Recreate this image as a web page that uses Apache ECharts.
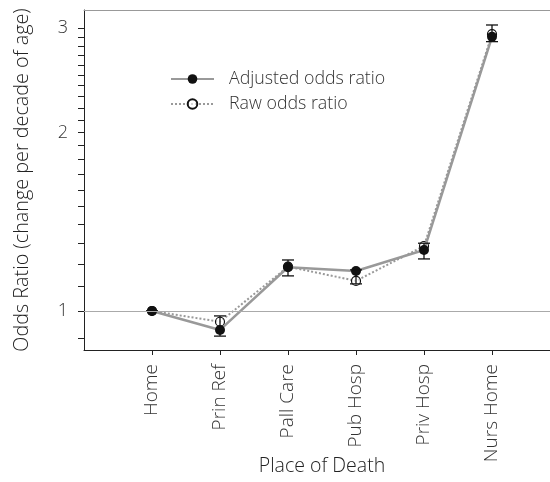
<!DOCTYPE html>
<html><head><meta charset="utf-8">
<script src="https://cdn.jsdelivr.net/npm/echarts@6/dist/echarts.min.js"></script>
<style>html,body{margin:0;padding:0;background:#fff}#c{width:550px;height:482px}</style>
</head><body><div id="c"></div>
<script>
var categories = ['Home','Prin Ref','Pall Care','Pub Hosp','Priv Hosp','Nurs Home'];
var adjusted = [1.0, 0.929, 1.185, 1.168, 1.267, 2.90];
var raw = [1.0, 0.959, 1.188, 1.124, 1.287, 2.93];
var errLow = [1.0, 0.907, 1.146, 1.111, 1.224, 2.846];
var errHigh = [1.0, 0.981, 1.219, 1.173, 1.301, 3.036];
var xTicks = [1, 2, 3, 4, 5, 6];
var yLabels = [1, 2, 3];
var yTicks = [0.9,1,1.1,1.2,1.3,1.4,1.5,1.6,1.7,1.8,1.9,2,2.1,2.2,2.3,2.4,2.5,2.6,2.7,2.8,2.9,3];

var font = 'Open Sans';
var chart = echarts.init(document.getElementById('c'));
function pts(arr){ return arr.map(function(v,i){ return [i+1, v]; }); }
var errData = categories.map(function(c,i){ return [i+1, errLow[i], errHigh[i]]; });

chart.setOption({
  animation: false,
  grid: {left: 84, top: 10, width: 476, height: 340, show: false,
         containLabel: false, outerBoundsMode: 'none'},
  legend: {
    left: 165, top: 65, orient: 'vertical', itemWidth: 43, itemHeight: 12, itemGap: 7,
    textStyle: {fontFamily: font, fontSize: 17.8, fontWeight: 300, color: '#333', padding: [0,0,0,10]},
    data: ['Adjusted odds ratio', 'Raw odds ratio']
  },
  xAxis: [{
    type: 'value', min: 0, max: 7, interval: 1,
    name: 'Place of Death', nameLocation: 'middle', nameGap: 106, nameMoveOverlap: false,
    nameTextStyle: {fontFamily: font, fontSize: 19.5, fontWeight: 300, color: '#222'},
    axisLine: {show: true, lineStyle: {color: '#222', width: 1}},
    axisTick: {show: true, length: 5, customValues: xTicks, lineStyle: {color: '#222'}},
    splitLine: {show: false},
    axisLabel: {
      rotate: 90, margin: 14, fontFamily: font, fontSize: 19, fontWeight: 300, color: '#333',
      customValues: xTicks,
      formatter: function(v){ return (v >= 1 && v <= categories.length) ? categories[v-1] : ''; }
    }
  }, {
    type: 'value', position: 'top', min: 0, max: 7,
    axisLine: {show: true, lineStyle: {color: '#999', width: 1}},
    axisTick: {show: false}, axisLabel: {show: false}, splitLine: {show: false}
  }],
  yAxis: {
    type: 'log', logBase: Math.E, min: 0.8594, max: 3.218,
    name: 'Odds Ratio (change per decade of age)', nameLocation: 'middle', nameGap: 52, nameMoveOverlap: false,
    nameTextStyle: {fontFamily: font, fontSize: 19.8, fontWeight: 300, color: '#222'},
    axisLine: {show: true, lineStyle: {color: '#222', width: 1}},
    axisTick: {show: true, length: 6, customValues: yTicks, lineStyle: {color: '#222'}},
    splitLine: {show: false},
    axisLabel: {customValues: yLabels, margin: 16, fontFamily: font, fontSize: 18, fontWeight: 300, color: '#333'}
  },
  series: [
    {
      name: 'Raw odds ratio', type: 'line', data: pts(raw), z: 2,
      symbol: 'circle', symbolSize: 9,
      lineStyle: {color: '#999', width: 2, type: 'dotted'},
      itemStyle: {color: 'rgba(255,255,255,0.6)', borderColor: '#111', borderWidth: 1.2}
    },
    {
      name: 'Adjusted odds ratio', type: 'line', data: pts(adjusted), z: 3,
      symbol: 'circle', symbolSize: 10,
      lineStyle: {color: '#999', width: 2.5},
      itemStyle: {color: '#111'},
      markLine: {silent: true, symbol: 'none', label: {show: false},
        lineStyle: {color: '#aaa', width: 1, type: 'solid'}, data: [{yAxis: 1}]}
    },
    {
      type: 'custom', z: 4, data: errData,
      renderItem: function(params, api){
        var x = api.value(0);
        var lo = api.coord([x, api.value(1)]);
        var hi = api.coord([x, api.value(2)]);
        var w = 6;
        var st = {stroke: '#111', lineWidth: 1.3};
        return {type: 'group', children: [
          {type: 'line', shape: {x1: lo[0], y1: lo[1], x2: hi[0], y2: hi[1]}, style: st},
          {type: 'line', shape: {x1: lo[0]-w, y1: lo[1], x2: lo[0]+w, y2: lo[1]}, style: st},
          {type: 'line', shape: {x1: hi[0]-w, y1: hi[1], x2: hi[0]+w, y2: hi[1]}, style: st}
        ]};
      }
    }
  ]
});
</script></body></html>
